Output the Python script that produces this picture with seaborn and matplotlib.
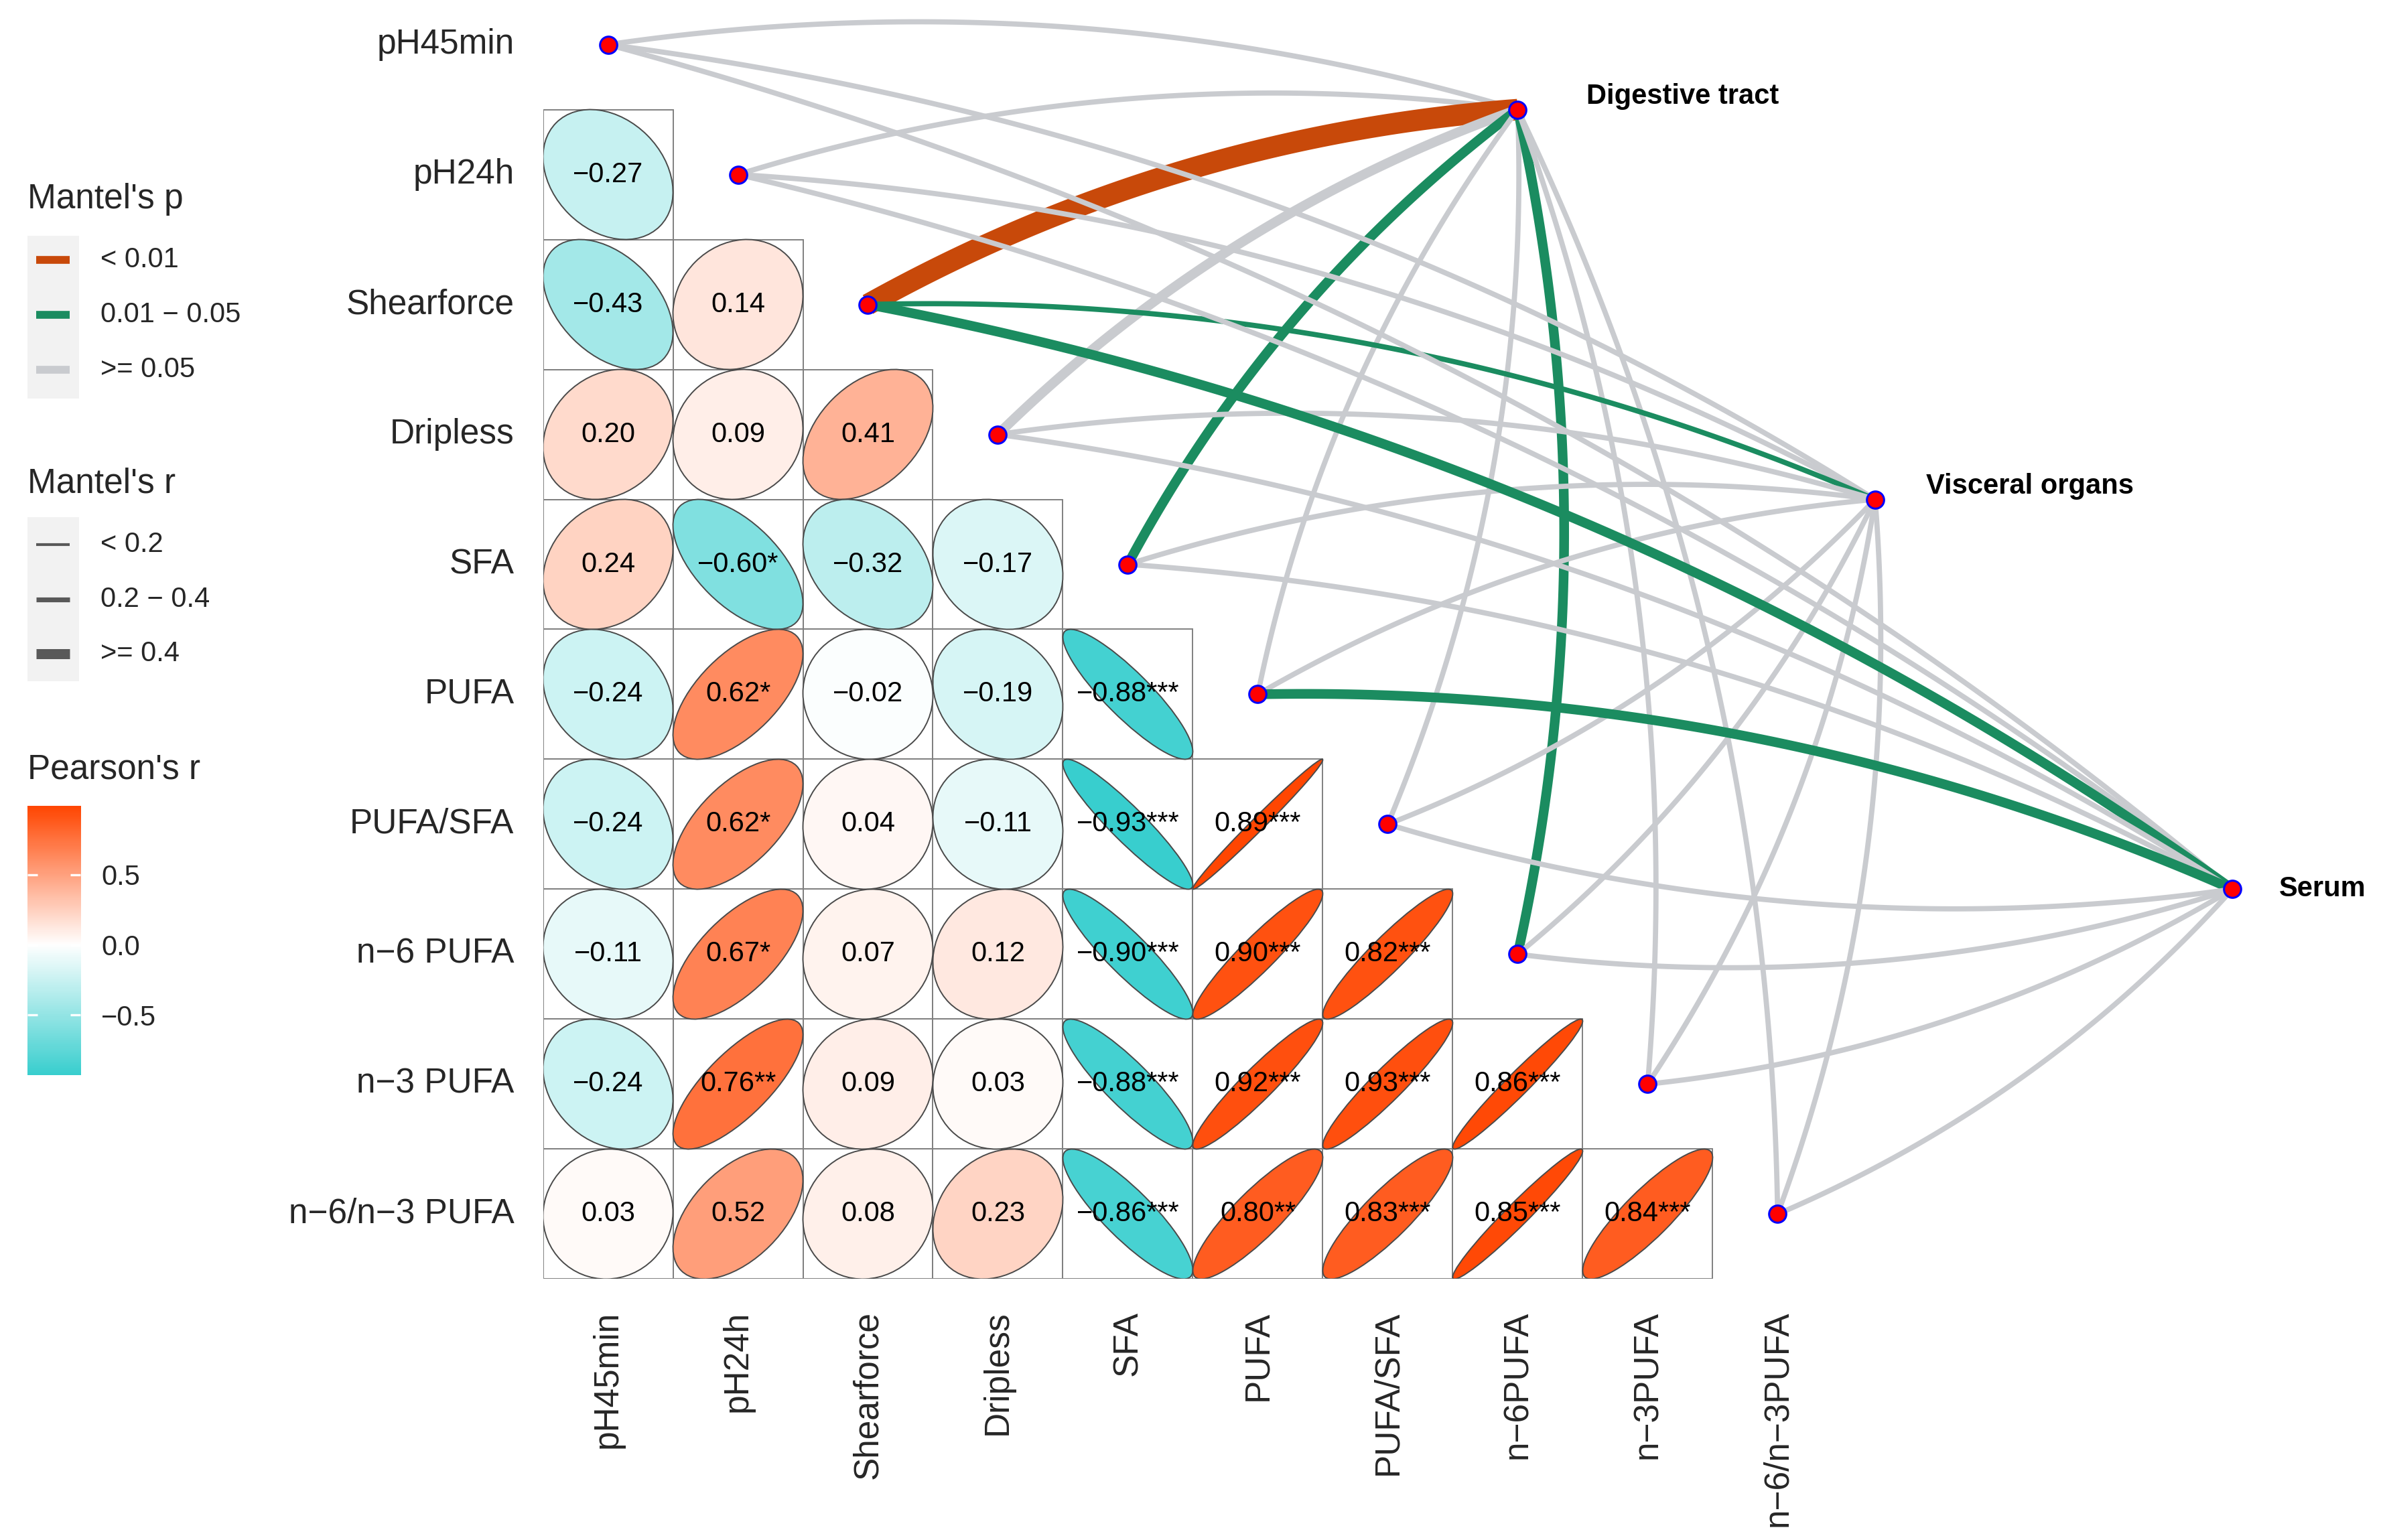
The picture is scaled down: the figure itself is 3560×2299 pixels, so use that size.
import numpy as np
import pandas as pd
import matplotlib
matplotlib.use("Agg")
from matplotlib import pyplot as plt
from matplotlib.colors import LinearSegmentedColormap, ListedColormap
from matplotlib.patches import Ellipse, Rectangle
import seaborn as sns

sns.set_theme(style="white")
plt.rcParams['font.family'] = ['Liberation Sans', 'DejaVu Sans']

MINUS = "\u2212"

# ---- variables of the correlation triangle ----
row_labels = ["pH45min", "pH24h", "Shearforce", "Dripless", "SFA", "PUFA", "PUFA/SFA",
              "n" + MINUS + "6 PUFA", "n" + MINUS + "3 PUFA", "n" + MINUS + "6/n" + MINUS + "3 PUFA"]
col_labels = ["pH45min", "pH24h", "Shearforce", "Dripless", "SFA", "PUFA", "PUFA/SFA",
              "n" + MINUS + "6PUFA", "n" + MINUS + "3PUFA", "n" + MINUS + "6/n" + MINUS + "3PUFA"]

# printed Pearson's r (lower triangle, row by row)
r_val = [
    [],
    [-0.27],
    [-0.43, 0.14],
    [0.20, 0.09, 0.41],
    [0.24, -0.60, -0.32, -0.17],
    [-0.24, 0.62, -0.02, -0.19, -0.88],
    [-0.24, 0.62, 0.04, -0.11, -0.93, 0.89],
    [-0.11, 0.67, 0.07, 0.12, -0.90, 0.90, 0.82],
    [-0.24, 0.76, 0.09, 0.03, -0.88, 0.92, 0.93, 0.86],
    [0.03, 0.52, 0.08, 0.23, -0.86, 0.80, 0.83, 0.85, 0.84],
]
stars = [
    [],
    [""],
    ["", ""],
    ["", "", ""],
    ["", "*", "", ""],
    ["", "*", "", "", "***"],
    ["", "*", "", "", "***", "***"],
    ["", "*", "", "", "***", "***", "***"],
    ["", "**", "", "", "***", "***", "***", "***"],
    ["", "", "", "", "***", "**", "***", "***", "***"],
]
# value the ellipse is drawn with (shape + fill)
r_fill = [
    [],
    [-0.27],
    [-0.43, 0.14],
    [0.20, 0.09, 0.41],
    [0.24, -0.60, -0.32, -0.17],
    [-0.24, 0.62, -0.02, -0.19, -0.88],
    [-0.24, 0.62, 0.04, -0.11, -0.93, 0.99],
    [-0.11, 0.67, 0.07, 0.12, -0.90, 0.93, 0.93],
    [-0.24, 0.76, 0.09, 0.03, -0.88, 0.94, 0.94, 0.97],
    [0.03, 0.52, 0.08, 0.23, -0.86, 0.87, 0.87, 0.97, 0.87],
]

# ---- Mantel test links (env -> each variable) ----
env_names = ["Digestive tract", "Visceral organs", "Serum"]
mantel_p = [
    [">= 0.05", ">= 0.05", "< 0.01", ">= 0.05", "0.01 - 0.05", ">= 0.05", ">= 0.05", "0.01 - 0.05", ">= 0.05", ">= 0.05"],
    [">= 0.05", ">= 0.05", "0.01 - 0.05", ">= 0.05", ">= 0.05", ">= 0.05", ">= 0.05", ">= 0.05", ">= 0.05", ">= 0.05"],
    [">= 0.05", ">= 0.05", "0.01 - 0.05", ">= 0.05", ">= 0.05", "0.01 - 0.05", ">= 0.05", ">= 0.05", ">= 0.05", ">= 0.05"],
]
mantel_r = [
    ["< 0.2", "< 0.2", ">= 0.4", "0.2 - 0.4", "0.2 - 0.4", "< 0.2", "< 0.2", "0.2 - 0.4", "< 0.2", "< 0.2"],
    ["< 0.2"] * 10,
    ["< 0.2", "< 0.2", "0.2 - 0.4", "< 0.2", "< 0.2", "0.2 - 0.4", "< 0.2", "< 0.2", "< 0.2", "< 0.2"],
]

p_levels = ["< 0.01", "0.01 - 0.05", ">= 0.05"]
r_levels = ["< 0.2", "0.2 - 0.4", ">= 0.4"]
p_colors = {"< 0.01": "#C8490A", "0.01 - 0.05": "#1B8C60", ">= 0.05": "#C9CBCF"}
r_widths = {"< 0.2": 2.8, "0.2 - 0.4": 5.2, ">= 0.4": 11.5}
r_key_widths = {"< 0.2": 1.5, "0.2 - 0.4": 2.6, ">= 0.4": 5.4}

# layout of the env nodes (in cell units)
env_x = [7.5, 10.25, 13.0]
env_y = [1.0, 4.0, 7.0]
env_dx = [0.53, 0.39, 0.36]
env_dy = [-0.1, -0.1, 0.0]

cmap = LinearSegmentedColormap.from_list("pr", ["#2BCBCB", "#FFFFFF", "#FF4500"])

# ---- figure ----
W, H = 1568.0, 1568.0 * 2299 / 3560
cell = 85.44
fig = plt.figure(figsize=(17.8, 11.495), dpi=200)
ax = fig.add_axes([357 / W, 1 - 841 / H, 1 - 357 / W, 841 / H])

n = len(row_labels)
grid = pd.DataFrame(np.zeros((n, n)), index=row_labels, columns=col_labels)
mask = np.triu(np.ones((n, n), dtype=bool))
sns.heatmap(grid, mask=mask, cmap=ListedColormap(["white"]), vmin=0, vmax=1, cbar=False, ax=ax)

for i in range(n):
    for j in range(i):
        ax.add_patch(Rectangle((j, i), 1, 1, facecolor="none", edgecolor="#808080",
                               linewidth=0.7, zorder=1.5))
        f = r_fill[i][j]
        e = Ellipse((j + 0.5, i + 0.5), width=np.sqrt(1 + f), height=np.sqrt(1 - f), angle=-45,
                    facecolor=cmap((f + 1) / 2), edgecolor="#4a4a4a", linewidth=0.7, zorder=2)
        ax.add_patch(e)
        lab = f"{r_val[i][j]:.2f}".replace("-", MINUS) + stars[i][j]
        ax.text(j + 0.5, i + 0.5, lab, ha="center", va="center", fontsize=15, color="black", zorder=3)

# curved links
for k, env in enumerate(env_names):
    for i in range(n):
        x0, y0 = env_x[k], env_y[k]
        x2, y2 = i + 0.5, i + 0.5
        dx, dy = x2 - x0, y2 - y0
        L = np.hypot(dx, dy)
        side = 1 if i <= 5 else -1
        px, py = -dy / L, dx / L
        cx = (x0 + x2) / 2 + side * 0.11 * L * px
        cy = (y0 + y2) / 2 + side * 0.11 * L * py
        t = np.linspace(0, 1, 80)
        bx = (1 - t) ** 2 * x0 + 2 * (1 - t) * t * cx + t ** 2 * x2
        by = (1 - t) ** 2 * y0 + 2 * (1 - t) * t * cy + t ** 2 * y2
        ax.plot(bx, by, color=p_colors[mantel_p[k][i]], linewidth=r_widths[mantel_r[k][i]],
                solid_capstyle="butt", zorder=1, clip_on=False)

# nodes
node_x = list(np.arange(n) + 0.5) + env_x
node_y = list(np.arange(n) + 0.5) + env_y
sns.scatterplot(x=node_x, y=node_y, s=85, color="red", edgecolor="blue", linewidth=1.1,
                ax=ax, zorder=5, legend=False, clip_on=False)

for k, env in enumerate(env_names):
    ax.text(env_x[k] + env_dx[k], env_y[k] + env_dy[k], env, ha="left", va="center",
            fontsize=15, fontweight="bold", color="black")

ax.set_xlim(0, (W - 357) / cell)
ax.set_ylim(10, 10 - 841 / cell)
ax.set_aspect("auto")
ax.grid(False)
ax.set_xticks(np.arange(n) + 0.5)
ax.set_xticklabels(col_labels, rotation=90, va="top", ha="center", fontsize=18.5)
ax.set_yticks(np.arange(n) + 0.5)
ax.set_yticklabels(row_labels, rotation=0, fontsize=18.5)
ax.tick_params(axis="x", length=0, pad=17)
ax.tick_params(axis="y", length=0, pad=15.5)
ax.set_xlabel("")
ax.set_ylabel("")
for sp in ax.spines.values():
    sp.set_visible(False)

# ---- legends ----
lax = fig.add_axes([0, 0, 1, 1])
lax.set_xlim(0, W)
lax.set_ylim(H, 0)
lax.axis("off")
lax.patch.set_alpha(0)

lax.text(18, 131, "Mantel's p", fontsize=18.5, va="center", ha="left")
lax.add_patch(Rectangle((18, 155), 34, 107, facecolor="#F2F2F2", edgecolor="none"))
for q, lev in enumerate(p_levels):
    yy = 171 + 36 * q
    lax.plot([24, 46], [yy, yy], color=p_colors[lev], linewidth=4.2, solid_capstyle="butt")
    lax.text(66, yy, lev.replace(" - ", " " + MINUS + " "), fontsize=15, va="center", ha="left")

lax.text(18, 318, "Mantel's r", fontsize=18.5, va="center", ha="left")
lax.add_patch(Rectangle((18, 340), 34, 108, facecolor="#F2F2F2", edgecolor="none"))
for q, lev in enumerate(r_levels):
    yy = 358 + 36 * q
    lax.plot([24, 46], [yy, yy], color="#595959", linewidth=r_key_widths[lev], solid_capstyle="butt")
    lax.text(66, yy, lev.replace(" - ", " " + MINUS + " "), fontsize=15, va="center", ha="left")

lax.text(18, 506, "Pearson's r", fontsize=18.5, va="center", ha="left")

fmin = min(min(r) for r in r_fill if r)
fmax = max(max(r) for r in r_fill if r)
cax = fig.add_axes([18 / W, 1 - 707 / H, 35 / W, 177 / H])
grad = np.linspace(fmin, fmax, 256)[:, None]
cax.imshow(grad, extent=[0, 1, fmin, fmax], origin="lower", aspect="auto", cmap=cmap, vmin=-1, vmax=1)
cax.set_xlim(0, 1)
cax.set_ylim(fmin, fmax)
cax.set_xticks([])
cax.set_yticks([-0.5, 0.0, 0.5])
cax.set_yticklabels([MINUS + "0.5", "0.0", "0.5"], fontsize=15)
cax.yaxis.tick_right()
cax.tick_params(axis="y", which="both", direction="in", left=True, right=True,
                labelleft=False, labelright=True, color="white", length=5.5, width=1.2, pad=11)
for sp in cax.spines.values():
    sp.set_visible(False)

fig.savefig("out.png", dpi=200, facecolor="white")
